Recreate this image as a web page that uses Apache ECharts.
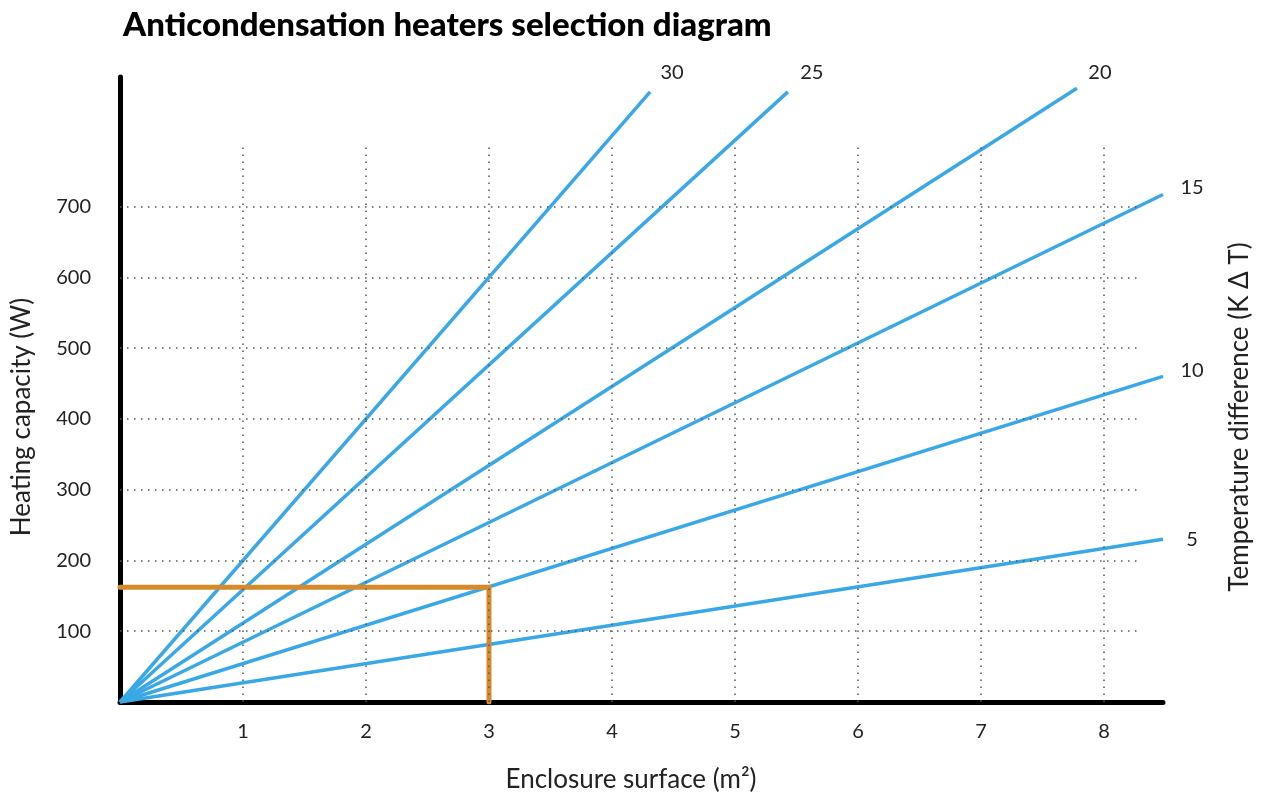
<!DOCTYPE html>
<html>
<head>
<meta charset="utf-8">
<script src="https://cdn.jsdelivr.net/npm/echarts@6/dist/echarts.min.js"></script>
<style>html,body{margin:0;padding:0;background:#fff}#c{width:1261px;height:796px}</style>
</head>
<body>
<div id="c"></div>
<script>
// ---- data ----
const xTicks = [1, 2, 3, 4, 5, 6, 7, 8];
const yTicks = [100, 200, 300, 400, 500, 600, 700];
const gridTopValue = 790;     // vertical dotted lines reach this W value
const gridRightValue = 8.27;  // horizontal dotted lines reach this m² value
const deltaT = ['30', '25', '20', '15', '10', '5'];
const endX = [4.31, 5.43, 7.78, 8.48, 8.48, 8.48];
const endY = [862, 862, 867, 717, 460, 230];
const selX = [0, 3, 3];
const selY = [162, 162, 0];

// label placement (style only)
const labelOffsets = [[22, -19], [24, -19], [23, -16], [29, -7], [29, -6], [29, 0]];

const FONT = 'Lato';
const TXT = '#222';
const BLUE = '#3AA8E6';
const ORANGE = '#D68A2B';

const chart = echarts.init(document.getElementById('c'));

const series = [];
series.push({
  type: 'line', data: [[0, 0]], symbol: 'none', silent: true, z: 1,
  lineStyle: { opacity: 0 },
  markLine: {
    silent: true, symbol: ['none', 'none'], label: { show: false },
    lineStyle: { type: [1.5, 5.5], width: 1.5, color: '#555' },
    emphasis: { disabled: true },
    data: xTicks.map(t => [{ coord: [t, 0] }, { coord: [t, gridTopValue] }])
      .concat(yTicks.map(v => [{ coord: [0, v] }, { coord: [gridRightValue, v] }]))
  }
});
deltaT.forEach((name, i) => {
  series.push({
    name: name, type: 'line', symbol: 'none', z: 3,
    data: [[0, 0], [endX[i], endY[i]]],
    lineStyle: { color: BLUE, width: 3.5 },
    markPoint: {
      symbol: 'circle', symbolSize: 2, itemStyle: { color: 'rgba(0,0,0,0)' }, silent: true,
      label: { show: true, position: 'inside', formatter: name, offset: labelOffsets[i],
        color: TXT, fontFamily: FONT, fontSize: 20 },
      data: [{ coord: [endX[i], endY[i]], value: name }]
    }
  });
});
series.push({
  type: 'line', symbol: 'none', z: 4,
  data: selX.map((x, i) => [x, selY[i]]),
  lineStyle: { color: ORANGE, width: 5, cap: 'round', join: 'miter' }
});

chart.setOption({
  animation: false,
  backgroundColor: '#fff',
  textStyle: { fontFamily: FONT },
  title: {
    text: 'Anticondensation heaters selection diagram',
    left: 118, top: 4,
    textStyle: { fontFamily: FONT, fontWeight: 900, fontSize: 33, color: '#000' }
  },
  grid: { left: 120, top: 77, width: 1043, height: 625 },
  xAxis: {
    type: 'value', min: 0, max: 8.48, interval: 1,
    axisLine: { lineStyle: { color: '#000', width: 5, cap: 'round' } },
    axisTick: { show: false },
    splitLine: { show: false },
    axisLabel: { color: TXT, fontSize: 20, fontFamily: FONT, margin: 20,
      formatter: v => (xTicks.indexOf(v) >= 0 ? String(v) : '') }
  },
  yAxis: {
    type: 'value', min: 0, max: 883, interval: 100,
    axisLine: { show: true, lineStyle: { color: '#000', width: 5, cap: 'round' } },
    axisTick: { show: false },
    splitLine: { show: false },
    axisLabel: { color: TXT, fontSize: 20, fontFamily: FONT, margin: 29,
      formatter: v => (yTicks.indexOf(v) >= 0 ? String(v) : '') }
  },
  graphic: [
    { type: 'text', x: 22, y: 417, rotation: Math.PI / 2,
      style: { text: 'Heating capacity (W)', fill: TXT, font: '26px ' + FONT, align: 'center', verticalAlign: 'middle' } },
    { type: 'text', x: 631, y: 780,
      style: { text: 'Enclosure surface (m²)', fill: TXT, font: '26px ' + FONT, align: 'center', verticalAlign: 'middle' } },
    { type: 'text', x: 1240, y: 417, rotation: Math.PI / 2,
      style: { text: 'Temperature difference (K Δ T)', fill: TXT, font: '26px ' + FONT, align: 'center', verticalAlign: 'middle' } }
  ],
  series: series
});
</script>
</body>
</html>
